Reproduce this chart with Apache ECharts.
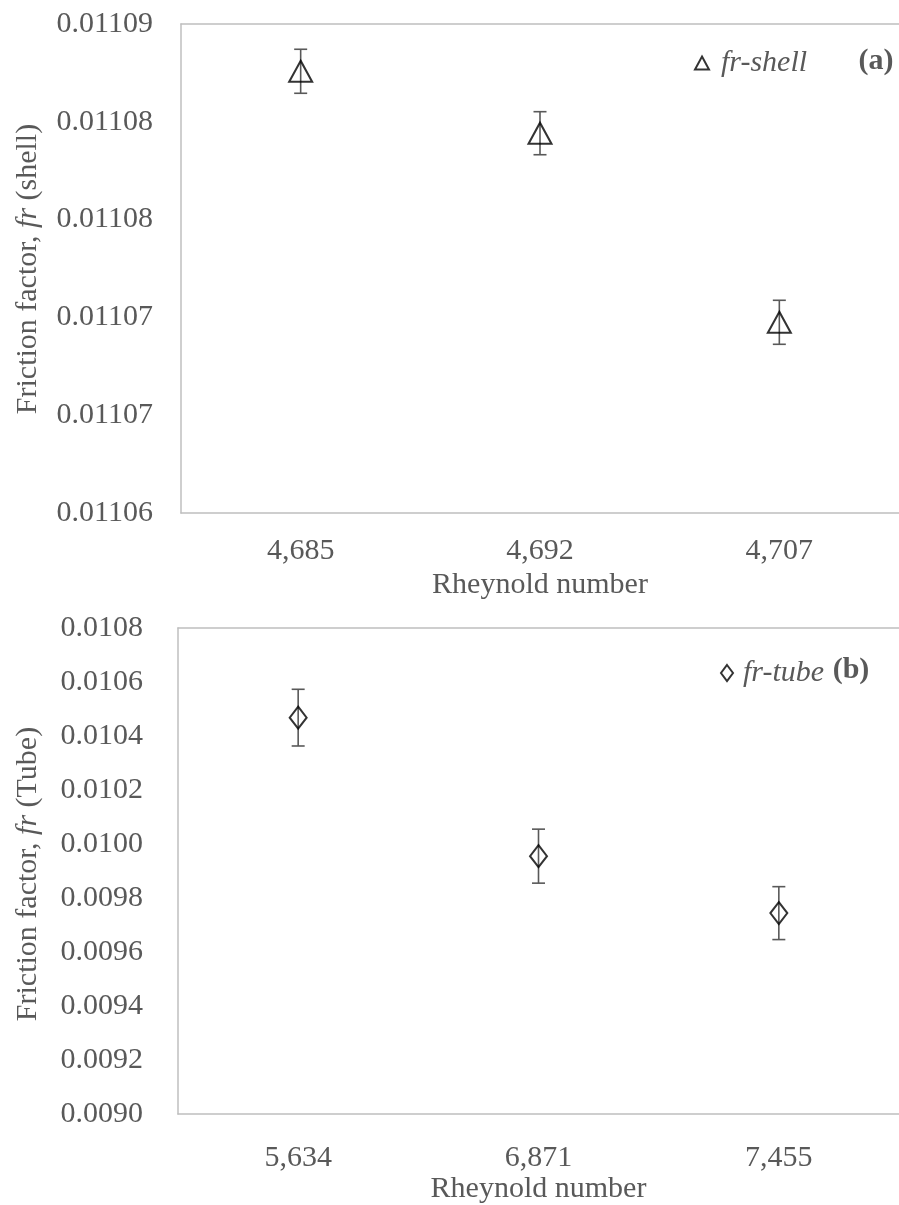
<!DOCTYPE html>
<html>
<head>
<meta charset="utf-8">
<script src="https://cdn.jsdelivr.net/npm/echarts@6/dist/echarts.min.js"></script>
<style>
html,body{margin:0;padding:0;background:#fff;overflow:hidden;}
#c{width:899px;height:1205px;}
</style>
</head>
<body>
<div id="c"></div>
<script>
// ---- data ----
const reShell = ['4,685', '4,692', '4,707'];
const frShell = [0.0110871, 0.0110833, 0.0110717];
const frShellErr = [0.00000135, 0.00000132, 0.00000135];

const reTube = ['5,634', '6,871', '7,455'];
const frTube = [0.010468, 0.009955, 0.009744];
const frTubeErr = [0.000105, 0.000100, 0.000098];

const shellAxis = { min: 0.01106, max: 0.01109, interval: 0.000006, digits: 5 };
const tubeAxis = { min: 0.0090, max: 0.0108, interval: 0.0002, digits: 4 };

// ---- styles ----
const FONT = '"Liberation Serif", "Times New Roman", serif';
const FS = 30;
const GREY = '#595959';
const AXIS = '#bfbfbf';

function errData(vals, errs) {
  return vals.map((v, i) => [i, v - errs[i], v + errs[i]]);
}
function errRender(params, api) {
  const x = api.value(0);
  const a = api.coord([x, api.value(1)]);
  const b = api.coord([x, api.value(2)]);
  const cap = 6.5;
  const st = { stroke: GREY, lineWidth: 1.6 };
  return {
    type: 'group',
    children: [
      { type: 'line', shape: { x1: a[0], y1: a[1], x2: b[0], y2: b[1] }, style: st },
      { type: 'line', shape: { x1: a[0] - cap, y1: a[1], x2: a[0] + cap, y2: a[1] }, style: st },
      { type: 'line', shape: { x1: b[0] - cap, y1: b[1], x2: b[0] + cap, y2: b[1] }, style: st }
    ]
  };
}

function xAxisCfg(idx, cats, gap, margin) {
  return {
    type: 'category', gridIndex: idx, data: cats, boundaryGap: true,
    axisLine: { show: true, lineStyle: { color: AXIS, width: 1.5 } },
    axisTick: { show: false },
    axisLabel: { color: GREY, fontFamily: FONT, fontSize: FS, margin: margin },
    splitLine: { show: false },
    name: 'Rheynold number', nameLocation: 'middle', nameGap: gap,
    nameTextStyle: { color: GREY, fontFamily: FONT, fontSize: FS }
  };
}
function topLineCfg(idx, cats) {
  return {
    type: 'category', gridIndex: idx, data: cats, position: 'top',
    axisLine: { show: true, lineStyle: { color: AXIS, width: 1.5 } },
    axisTick: { show: false }, axisLabel: { show: false }, splitLine: { show: false }
  };
}
function yAxisCfg(idx, ax, margin) {
  return {
    type: 'value', gridIndex: idx, min: ax.min, max: ax.max, interval: ax.interval,
    axisLine: { show: true, lineStyle: { color: AXIS, width: 1.5 } },
    axisTick: { show: false },
    splitLine: { show: false },
    axisLabel: {
      color: GREY, fontFamily: FONT, fontSize: FS, margin: margin,
      formatter: v => v.toFixed(ax.digits)
    }
  };
}
function yTitle(x, y, unit) {
  return {
    type: 'text', x: x, y: y, rotation: Math.PI / 2,
    style: {
      text: 'Friction factor, {i|fr} (' + unit + ')', fill: GREY, font: FS + 'px ' + FONT,
      align: 'center', verticalAlign: 'middle',
      rich: { i: { fontStyle: 'italic', fontFamily: FONT, fontSize: FS, fill: GREY } }
    }
  };
}

const chart = echarts.init(document.getElementById('c'), null, { renderer: 'canvas' });
const option = {
  backgroundColor: '#fff',
  animation: false,
  grid: [
    { left: 181, top: 24, width: 727, height: 489 },
    { left: 178, top: 628, width: 730, height: 491 }
  ],
  xAxis: [
    xAxisCfg(0, reShell, 57, 23), xAxisCfg(1, reTube, 60, 29),
    topLineCfg(0, reShell), topLineCfg(1, reTube)
  ],
  yAxis: [yAxisCfg(0, shellAxis, 28), yAxisCfg(1, tubeAxis, 35)],
  legend: [
    {
      data: ['fr-shell'], left: 689, top: 43, itemWidth: 14, itemHeight: 13,
      textStyle: { color: GREY, fontFamily: FONT, fontSize: FS, fontStyle: 'italic', padding: [0, 0, 0, 7] },
      itemStyle: { color: 'rgba(0,0,0,0)', borderColor: '#000', borderWidth: 2 }
    },
    {
      data: ['fr-tube'], left: 715, top: 653, itemWidth: 12, itemHeight: 16,
      textStyle: { color: GREY, fontFamily: FONT, fontSize: FS, fontStyle: 'italic', padding: [0, 0, 0, 5] },
      itemStyle: { color: 'rgba(0,0,0,0)', borderColor: '#000', borderWidth: 2 }
    }
  ],
  graphic: [
    yTitle(28, 269, 'shell'),
    yTitle(28, 874, 'Tube'),
    { type: 'text', x: 876, y: 61, style: { text: '(a)', fill: GREY, font: 'bold ' + FS + 'px ' + FONT, align: 'center', verticalAlign: 'middle' } },
    { type: 'text', x: 851, y: 670, style: { text: '(b)', fill: GREY, font: 'bold ' + FS + 'px ' + FONT, align: 'center', verticalAlign: 'middle' } }
  ],
  series: [
    {
      type: 'custom', name: 'shell-err', xAxisIndex: 0, yAxisIndex: 0,
      renderItem: errRender, data: errData(frShell, frShellErr), z: 2, silent: true
    },
    {
      type: 'scatter', name: 'fr-shell', xAxisIndex: 0, yAxisIndex: 0,
      data: frShell, symbol: 'triangle', symbolSize: [23, 21], z: 3,
      itemStyle: { color: 'rgba(0,0,0,0)', borderColor: '#000', borderWidth: 2 }
    },
    {
      type: 'custom', name: 'tube-err', xAxisIndex: 1, yAxisIndex: 1,
      renderItem: errRender, data: errData(frTube, frTubeErr), z: 2, silent: true
    },
    {
      type: 'scatter', name: 'fr-tube', xAxisIndex: 1, yAxisIndex: 1,
      data: frTube, symbol: 'diamond', symbolSize: [17, 22], z: 3,
      itemStyle: { color: 'rgba(0,0,0,0)', borderColor: '#000', borderWidth: 2 }
    }
  ]
};
chart.setOption(option);
</script>
</body>
</html>
